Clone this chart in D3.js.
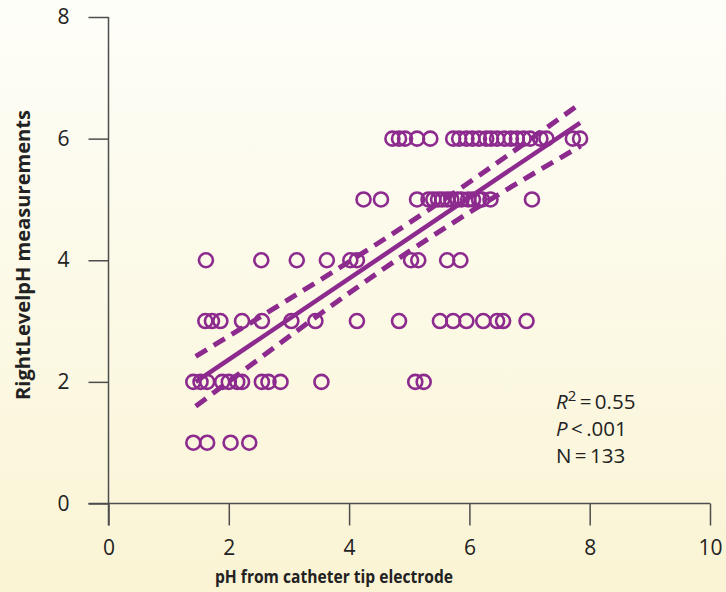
<!DOCTYPE html>
<html>
<head>
<meta charset="utf-8">
<script src="https://cdn.jsdelivr.net/npm/d3@7/dist/d3.min.js"></script>
<style>
html,body{margin:0;padding:0;}
svg{display:block;}
</style>
</head>
<body>
<script>
// ---- data ----
const xTicks = [0, 2, 4, 6, 8, 10];
const yTicks = [0, 2, 4, 6, 8];
const levels = [1, 2, 3, 4, 5, 6];
const row1X = [1.41, 1.64, 2.03, 2.34];
const row2X = [1.41, 1.53, 1.64, 1.89, 2.0, 2.14, 2.22, 2.55, 2.66, 2.86, 3.54, 5.1, 5.24];
const row3X = [1.61, 1.72, 1.86, 2.22, 2.55, 3.04, 3.44, 4.13, 4.83, 5.51, 5.73, 5.95, 6.23, 6.46, 6.56, 6.95];
const row4X = [1.62, 2.54, 3.13, 3.63, 4.02, 4.13, 5.03, 5.15, 5.63, 5.85];
const row5X = [4.24, 4.53, 5.13, 5.32, 5.4, 5.48, 5.55, 5.63, 5.7, 5.8, 5.87, 5.98, 6.06, 6.16, 6.21, 6.35, 7.04];
const row6X = [4.72, 4.83, 4.93, 5.13, 5.35, 5.73, 5.83, 5.95, 6.05, 6.16, 6.28, 6.36, 6.46, 6.58, 6.69, 6.79, 6.9, 7.01, 7.18, 7.28, 7.72, 7.84];
const rows = [row1X, row2X, row3X, row4X, row5X, row6X];
const fitX = [1.45, 7.84];
const fitY = [2.0, 6.26];
const bandX = [1.45, 4.9, 7.85];
const upperY = [2.42, 4.55, 6.58];
const lowerY = [1.60, 4.08, 5.88];
const statsLines = [["R", "2", "\u2009=\u20090.55"], ["P", "", "\u2009<\u2009.001"], ["", "", "N\u2009=\u2009133"]];
const xTitle = "pH from catheter tip electrode";
const yTitle = "RightLevelpH measurements";

// ---- drawing ----
const W = 726, H = 592;
const purple = "#8c2a8e";
const axisCol = "#4d4d4d";
const textCol = "#222222";
const font = "'Open Sans', sans-serif";

const svg = d3.select("body").append("svg").attr("width", W).attr("height", H);
const defs = svg.append("defs");
const grad = defs.append("linearGradient").attr("id", "bg").attr("x1", 0).attr("y1", 0).attr("x2", 0).attr("y2", 1);
grad.append("stop").attr("offset", "0%").attr("stop-color", "#fefef9");
grad.append("stop").attr("offset", "100%").attr("stop-color", "#faf4d4");
svg.append("rect").attr("width", W).attr("height", H).attr("fill", "url(#bg)");

const x = d3.scaleLinear().domain([0, 10]).range([108.5, 710]);
const y = d3.scaleLinear().domain([0, 8]).range([503.5, 17]);

// x axis
const gx = svg.append("g").attr("transform", `translate(0,${y(0)})`)
  .call(d3.axisBottom(x).tickValues(xTicks).tickSize(22).tickPadding(15).tickFormat(d3.format("d")));
gx.select(".domain").attr("d", `M${x(0) - 20},0H${x(10)}`).attr("stroke", axisCol).attr("stroke-width", 1.5);
gx.selectAll(".tick line").attr("stroke", axisCol).attr("stroke-width", 1.5);
gx.selectAll(".tick text").attr("fill", textCol).style("font", `21px ${font}`);

// y axis
const gy = svg.append("g").attr("transform", `translate(${x(0)},0)`)
  .call(d3.axisLeft(y).tickValues(yTicks).tickSize(20).tickPadding(19).tickFormat(d3.format("d")));
gy.select(".domain").attr("d", `M0,${y(8)}V${y(0) + 22}`).attr("stroke", axisCol).attr("stroke-width", 1.5);
gy.selectAll(".tick line").attr("stroke", axisCol).attr("stroke-width", 1.5);
gy.selectAll(".tick text").attr("fill", textCol).style("font", `21px ${font}`);

// axis titles
svg.append("text").attr("x", 334).attr("y", 583).attr("text-anchor", "middle")
  .attr("textLength", 238).attr("lengthAdjust", "spacingAndGlyphs")
  .attr("fill", textCol).style("font", `bold 18.5px ${font}`).text(xTitle);
svg.append("text").attr("transform", `translate(30,255) rotate(-90)`).attr("text-anchor", "middle")
  .attr("textLength", 290).attr("lengthAdjust", "spacingAndGlyphs")
  .attr("fill", textCol).style("font", `bold 20px ${font}`).text(yTitle);

// points
const pts = [];
rows.forEach((r, i) => r.forEach(v => pts.push({ x: v, y: levels[i] })));
svg.append("g").selectAll("circle").data(pts).join("circle")
  .attr("cx", d => x(d.x)).attr("cy", d => y(d.y)).attr("r", 7)
  .attr("fill", "none").attr("stroke", purple).attr("stroke-width", 2.6);

// fit line and confidence bands
const line = d3.line().x(d => x(d[0])).y(d => y(d[1]));
svg.append("path").attr("d", line(d3.zip(fitX, fitY)))
  .attr("fill", "none").attr("stroke", purple).attr("stroke-width", 4.5);
const bandLine = d3.line().x(d => x(d[0])).y(d => y(d[1])).curve(d3.curveNatural);
[upperY, lowerY].forEach(b => {
  svg.append("path").attr("d", bandLine(d3.zip(bandX, b)))
    .attr("fill", "none").attr("stroke", purple).attr("stroke-width", 5)
    .attr("stroke-dasharray", "13,8");
});

// stats
statsLines.forEach((l, i) => {
  const t = svg.append("text").attr("x", 556).attr("y", 409 + i * 27)
    .attr("fill", textCol).style("font", `20.5px ${font}`);
  if (l[0]) t.append("tspan").attr("font-style", "italic").text(l[0]);
  if (l[1]) t.append("tspan").attr("dy", -8).attr("font-size", "15px").text(l[1]);
  t.append("tspan").attr("dy", l[1] ? 8 : 0).text(l[2]);
});
</script>
</body>
</html>
